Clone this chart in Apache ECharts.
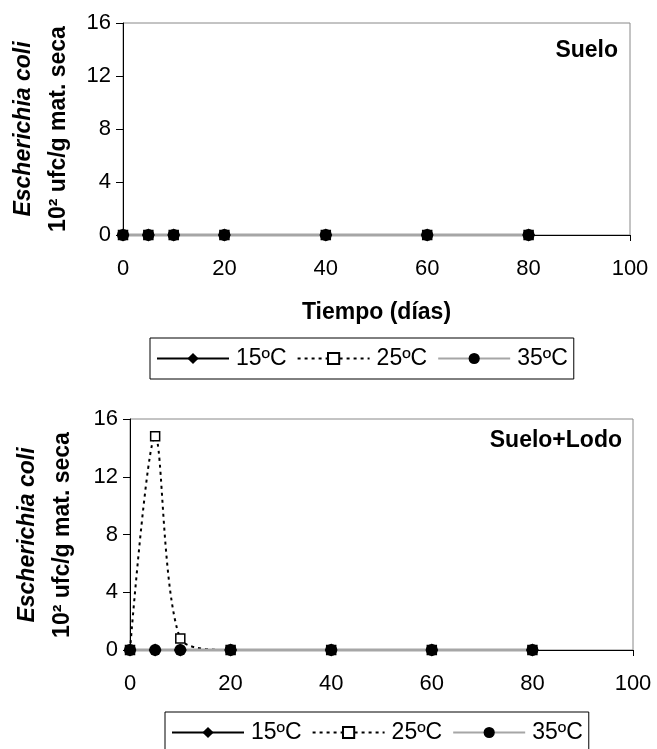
<!DOCTYPE html>
<html>
<head>
<meta charset="utf-8">
<script src="https://cdn.jsdelivr.net/npm/echarts@6/dist/echarts.min.js"></script>
<style>
html,body{margin:0;padding:0;background:#fff;}
#c{width:657px;height:749px;}
</style>
</head>
<body>
<div id="c"></div>
<script>
// ---- data ----
var days = [0, 5, 10, 20, 40, 60, 80];
var seriesNames = ['15ºC', '25ºC', '35ºC'];
// Suelo (top)
var sueloT15 = [0, 0, 0, 0, 0, 0, 0];
var sueloT25 = [0, 0, 0, 0, 0, 0, 0];
var sueloT35 = [0, 0, 0, 0, 0, 0, 0];
// Suelo+Lodo (bottom)
var lodoT15 = [0, 0, 0, 0, 0, 0, 0];
var lodoT25 = [0, 14.8, 0.8, 0, 0, 0, 0];
var lodoT35 = [0, 0, 0, 0, 0, 0, 0];
var xTicks = [0, 20, 40, 60, 80, 100];
var yTicks = [0, 4, 8, 12, 16];
var panelTitles = ['Suelo', 'Suelo+Lodo'];
var xTitle = 'Tiempo (días)';
var yTitle1 = 'Escherichia coli';
var yTitle2 = '10² ufc/g mat. seca';

function pairs(xs, ys) { return xs.map(function (x, i) { return [x, ys[i]]; }); }

var FONT = "'Liberation Sans', Arial, sans-serif";

function seriesSet(idx, d15, d25, d35, smooth25) {
  return [
    {
      name: seriesNames[0], type: 'line', xAxisIndex: idx, yAxisIndex: idx,
      data: pairs(days, d15), clip: false,
      symbol: 'diamond', symbolSize: 13,
      itemStyle: { color: '#000' },
      lineStyle: { color: '#000', width: 1.5 }
    },
    {
      name: seriesNames[1], type: 'line', xAxisIndex: idx, yAxisIndex: idx,
      data: pairs(days, d25), clip: false, smooth: smooth25 ? 0.3 : false,
      symbol: 'rect', symbolSize: 9,
      itemStyle: { color: '#fff', borderColor: '#000', borderWidth: 1.5 },
      lineStyle: { color: '#000', width: 2, type: [3, 4] }
    },
    {
      name: seriesNames[2], type: 'line', xAxisIndex: idx, yAxisIndex: idx,
      data: pairs(days, d35), clip: false,
      symbol: 'circle', symbolSize: 12,
      itemStyle: { color: '#000' },
      lineStyle: { color: '#a6a6a6', width: 3 }
    }
  ];
}

function xAxisCfg(idx, withName) {
  return {
    type: 'value', gridIndex: idx, min: 0, max: 100, interval: 20,
    axisLine: { show: true, onZero: false, lineStyle: { color: '#000', width: 1 } },
    axisTick: { show: true, inside: false, length: 6, lineStyle: { color: '#000' } },
    axisLabel: { fontSize: 22, color: '#000', fontFamily: FONT, margin: 23 },
    splitLine: { show: false },
    name: withName ? xTitle : '',
    nameLocation: 'middle', nameGap: 66,
    nameTextStyle: { fontSize: 23, fontWeight: 'bold', color: '#000', fontFamily: FONT }
  };
}
function yAxisCfg(idx) {
  return {
    type: 'value', gridIndex: idx, min: 0, max: 16, interval: 4,
    axisLine: { show: true, lineStyle: { color: '#000', width: 1 } },
    axisTick: { show: true, inside: false, length: 7, lineStyle: { color: '#000' } },
    axisLabel: { fontSize: 22, color: '#000', fontFamily: FONT, margin: 12 },
    splitLine: { show: false }
  };
}
function legendCfg(left, top) {
  return {
    data: seriesNames, left: left, top: top, orient: 'horizontal',
    itemWidth: 72, itemHeight: 14, itemGap: 10,
    padding: [9, 6, 9, 6],
    borderColor: '#000', borderWidth: 1, backgroundColor: '#fff',
    textStyle: { fontSize: 23, color: '#000', fontFamily: FONT, padding: [0, 0, 0, 2] }
  };
}
function yTitleGraphic(cx, cy) {
  return {
    type: 'text', x: cx, y: cy, rotation: Math.PI / 2, z: 10,
    style: {
      text: '{a|' + yTitle1 + '}\n{b|' + yTitle2 + '}',
      align: 'center', verticalAlign: 'middle',
      rich: {
        a: { fontSize: 23, fontWeight: 'bold', fontStyle: 'italic', fontFamily: FONT, fill: '#000', lineHeight: 35, align: 'center' },
        b: { fontSize: 23, fontWeight: 'bold', fontFamily: FONT, fill: '#000', lineHeight: 35, align: 'center' }
      }
    }
  };
}

var option = {
  animation: false,
  backgroundColor: '#fff',
  grid: [
    { left: 123, top: 23, width: 507, height: 212, show: true, borderColor: '#888', borderWidth: 1, backgroundColor: '#fff' },
    { left: 130, top: 419, width: 503, height: 231, show: true, borderColor: '#888', borderWidth: 1, backgroundColor: '#fff' }
  ],
  xAxis: [xAxisCfg(0, true), xAxisCfg(1, false)],
  yAxis: [yAxisCfg(0), yAxisCfg(1)],
  legend: [legendCfg(150, 338), legendCfg(165, 712)],
  series: [].concat(
    seriesSet(0, sueloT15, sueloT25, sueloT35, false),
    seriesSet(1, lodoT15, lodoT25, lodoT35, true)
  ),
  graphic: [
    yTitleGraphic(41, 129),
    yTitleGraphic(45, 535),
    { type: 'text', x: 618, y: 51, z: 10, style: { text: panelTitles[0], align: 'right', verticalAlign: 'middle', fontSize: 23, fontWeight: 'bold', fontFamily: FONT, fill: '#000' } },
    { type: 'text', x: 622, y: 441, z: 10, style: { text: panelTitles[1], align: 'right', verticalAlign: 'middle', fontSize: 23, fontWeight: 'bold', fontFamily: FONT, fill: '#000' } }
  ]
};

var chart = echarts.init(document.getElementById('c'), null, { renderer: 'canvas' });
chart.setOption(option);
</script>
</body>
</html>
